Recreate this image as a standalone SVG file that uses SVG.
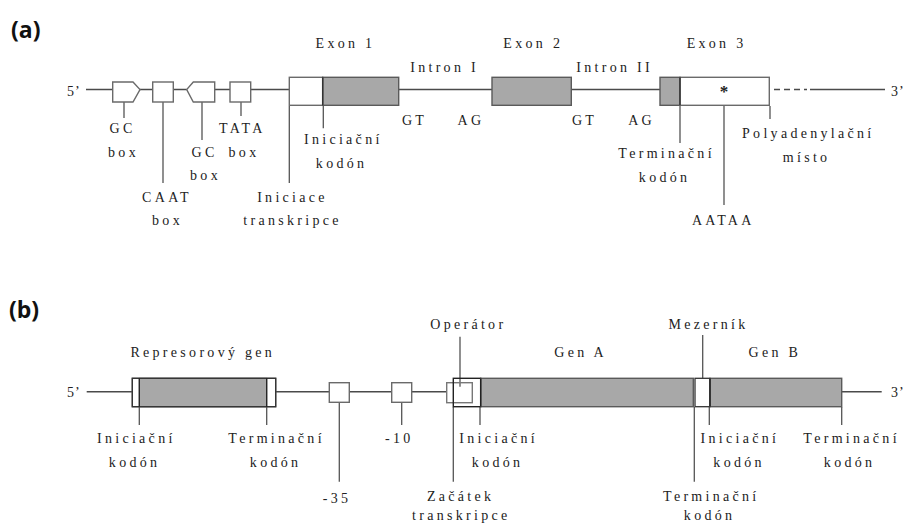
<svg xmlns="http://www.w3.org/2000/svg" width="907" height="524" viewBox="0 0 907 524">
<style>
.t{font-family:"Liberation Serif","Times New Roman",serif;font-size:14px;fill:#222;letter-spacing:3.3px;text-anchor:middle}
.e{font-family:"Liberation Serif","Times New Roman",serif;font-size:14px;fill:#222;letter-spacing:1px}
.h{font-family:"Open Sans","Noto Sans",sans-serif;font-size:23px;font-weight:bold;fill:#111}
.ln{stroke:#4a4a4a;stroke-width:1.5;fill:none}
.tk{stroke:#555;stroke-width:1.3;fill:none}
.bx{fill:#fff;stroke:#6a6a6a;stroke-width:1.4}
.gr{fill:#a8a8a8;stroke:#5a5a5a;stroke-width:1.4}
</style>
<rect width="907" height="524" fill="#fff"/>
<text class="h" x="11" y="38">(a)</text>
<text class="h" x="9" y="318">(b)</text>

<g id="connectors">
  <path class="ln" d="M86 89.5H112.7M140 89.5H152.7M173.3 89.5H186.7M214.7 89.5H230M250.7 89.5H289.3M398.7 89.5H492M571.3 89.5H660M810 89.5H885"/>
  <path class="ln" d="M774 89.5H807" stroke-dasharray="6 4"/>
  <path class="tk" d="M124 102V118M163 102V183M202 102V140M241 102V116M289.3 106V183M323.3 106V128.3M680 106V143M724 106V205M770 106V119"/>
  <path class="ln" d="M86.7 391.7H133M275.7 391.7H329.3M349.3 391.7H391.7M411.7 391.7H446.7M841.7 391.7H881.7"/>
  <path class="tk" d="M139.3 407V425M266.7 407V425M339.3 402.5V481.7M401.7 402.5V425M453.3 407V481.7M480 407V425M694.3 407V481.7M709.3 407V425M841.7 407V425"/>
  <path class="tk" stroke="#333" d="M460 336.7V386.7M702.7 335V386.7"/>
</g>

<g id="end5a"><text class="e" x="67" y="96">5’</text></g>
<g id="end3a"><text class="e" x="891" y="96">3’</text></g>

<g id="gcbox1">
  <path class="bx" d="M112.7 82H133L140 89.5L133 102H112.7Z"/>
  <text class="t" x="122.5" y="133.3">GC</text>
  <text class="t" x="123.5" y="156.7">box</text>
</g>
<g id="caatbox">
  <rect class="bx" x="152.7" y="82" width="20.6" height="20"/>
  <text class="t" x="167" y="201.7">CAAT</text>
  <text class="t" x="167.5" y="225">box</text>
</g>
<g id="gcbox2">
  <path class="bx" d="M214.7 82H193.3L186.7 89.5L193.3 102H214.7Z"/>
  <text class="t" x="204.5" y="156.7">GC</text>
  <text class="t" x="205.5" y="180">box</text>
</g>
<g id="tatabox">
  <rect class="bx" x="230" y="82" width="20.7" height="20"/>
  <text class="t" x="242.3" y="133.3">TATA</text>
  <text class="t" x="244" y="156.7">box</text>
</g>
<g id="iniciace">
  <text class="t" x="292.5" y="201.7">Iniciace</text>
  <text class="t" x="292.5" y="225">transkripce</text>
</g>
<g id="exon1">
  <rect class="bx" x="289.3" y="77.3" width="33.4" height="28"/>
  <rect class="gr" x="322.7" y="77.3" width="76" height="28"/>
  <path stroke="#333" stroke-width="1.5" d="M322.7 77.3V105.3"/>
  <text class="t" x="345.5" y="48.3">Exon 1</text>
</g>
<g id="inicodon-a">
  <text class="t" x="343.3" y="144">Iniciační</text>
  <text class="t" x="341.6" y="168.3">kodón</text>
</g>
<g id="intron1">
  <text class="t" x="444.6" y="71.7">Intron I</text>
  <text class="t" x="414.6" y="125">GT</text>
  <text class="t" x="471" y="125">AG</text>
</g>
<g id="exon2">
  <rect class="gr" x="492" y="77.3" width="79.3" height="28"/>
  <text class="t" x="533.3" y="48.3">Exon 2</text>
</g>
<g id="intron2">
  <text class="t" x="614.6" y="71.7">Intron II</text>
  <text class="t" x="584.6" y="125">GT</text>
  <text class="t" x="641.6" y="125">AG</text>
</g>
<g id="exon3">
  <rect class="gr" x="660" y="77.3" width="20" height="28"/>
  <rect class="bx" x="680" y="77.3" width="89.3" height="28"/>
  <path stroke="#333" stroke-width="1.5" d="M680 77.3V105.3"/>
  <text x="724" y="97" font-family="Liberation Serif, serif" font-size="17" font-weight="bold" fill="#222" text-anchor="middle">*</text>
  <text class="t" x="716.6" y="48.3">Exon 3</text>
</g>
<g id="termcodon-a">
  <text class="t" x="666.6" y="158">Terminační</text>
  <text class="t" x="664.6" y="181.7">kodón</text>
</g>
<g id="aataa"><text class="t" x="723.3" y="225">AATAA</text></g>
<g id="polya">
  <text class="t" x="808.3" y="138">Polyadenylační</text>
  <text class="t" x="806.6" y="161.7">místo</text>
</g>

<g id="end5b"><text class="e" x="67" y="397">5’</text></g>
<g id="end3b"><text class="e" x="891" y="397">3’</text></g>

<g id="represor">
  <rect class="bx" x="132.3" y="378.3" width="143.4" height="28.4"/>
  <rect x="139.3" y="378.3" width="127.4" height="28.4" fill="#a8a8a8" stroke="#777" stroke-width="1"/>
  <rect x="132.3" y="378.3" width="143.4" height="28.4" fill="none" stroke="#333" stroke-width="1.3"/>
  <path stroke="#222" stroke-width="1.3" d="M139.3 378.3V406.7M266.7 378.3V406.7"/>
  <text class="t" x="202.8" y="357">Represorový gen</text>
</g>
<g id="ini-rep">
  <text class="t" x="136.3" y="442.7">Iniciační</text>
  <text class="t" x="134.6" y="466.7">kodón</text>
</g>
<g id="term-rep">
  <text class="t" x="276.6" y="442.7">Terminační</text>
  <text class="t" x="275.6" y="466.7">kodón</text>
</g>
<g id="box35">
  <rect class="bx" x="329.3" y="382.7" width="20" height="19.6"/>
  <text class="t" x="337.1" y="502.7">-35</text>
</g>
<g id="box10">
  <rect class="bx" x="391.7" y="382.7" width="20" height="19.6"/>
  <text class="t" x="399.3" y="442.7">-10</text>
</g>
<g id="operator">
  <rect x="446.7" y="382.7" width="25.6" height="20" fill="none" stroke="#777" stroke-width="1.4"/>
  <rect x="453.3" y="378.3" width="27.4" height="28.4" fill="none" stroke="#222" stroke-width="1.4"/>
  <text class="t" x="468.3" y="329.3">Operátor</text>
</g>
<g id="zacatek">
  <text class="t" x="460.6" y="501">Začátek</text>
  <text class="t" x="461.3" y="520">transkripce</text>
</g>
<g id="genA">
  <rect class="gr" x="480.7" y="378.3" width="212.6" height="28.4"/>
  <path stroke="#222" stroke-width="1.5" d="M480.7 378.3V406.7"/>
  <text class="t" x="580.6" y="356.7">Gen A</text>
</g>
<g id="ini-A">
  <text class="t" x="498.6" y="442.7">Iniciační</text>
  <text class="t" x="497.6" y="466.7">kodón</text>
</g>
<g id="term-A">
  <text class="t" x="711.3" y="501">Terminační</text>
  <text class="t" x="709.6" y="520">kodón</text>
</g>
<g id="mezernik">
  <rect x="695" y="378.3" width="15" height="28.4" fill="#fff" stroke="#333" stroke-width="1.3"/>
  <text class="t" x="708.6" y="329.3">Mezerník</text>
</g>
<g id="genB">
  <rect class="gr" x="710" y="378.3" width="131.7" height="28.4"/>
  <path stroke="#222" stroke-width="1.5" d="M710 378.3V406.7"/>
  <text class="t" x="774.9" y="356.7">Gen B</text>
</g>
<g id="ini-B">
  <text class="t" x="739.9" y="442.7">Iniciační</text>
  <text class="t" x="739.1" y="466.7">kodón</text>
</g>
<g id="term-B">
  <text class="t" x="851.6" y="442.7">Terminační</text>
  <text class="t" x="849.6" y="466.7">kodón</text>
</g>
</svg>
